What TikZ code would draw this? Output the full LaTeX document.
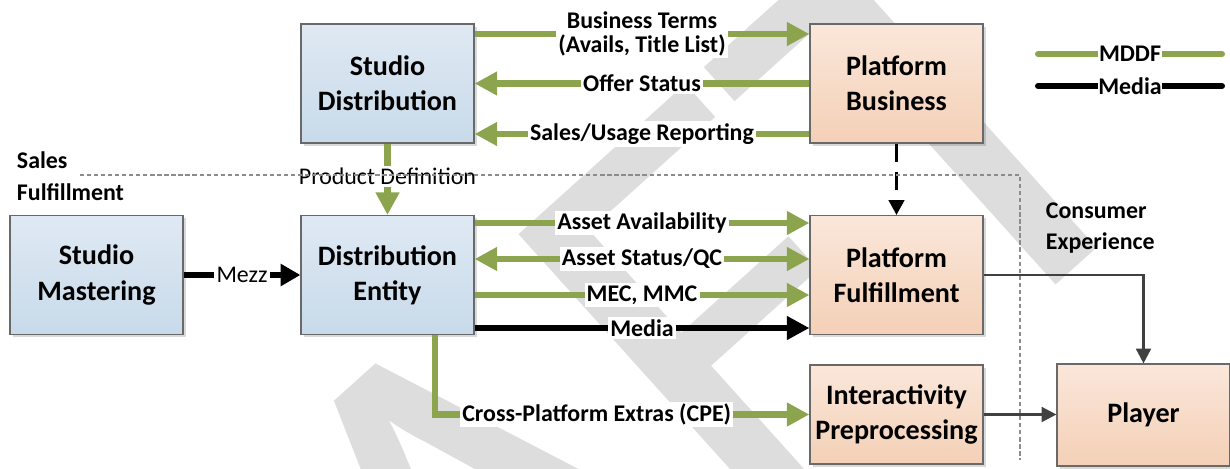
\documentclass[tikz,border=0pt]{standalone}
\usepackage{fontspec}
\setmainfont{Carlito}
\usetikzlibrary{arrows.meta,shadows}
\definecolor{mddf}{RGB}{140,164,78}
\definecolor{boxline}{RGB}{105,105,105}
\definecolor{bluetop}{RGB}{223,233,243}
\definecolor{bluebot}{RGB}{200,218,234}
\definecolor{orangetop}{RGB}{250,231,218}
\definecolor{orangebot}{RGB}{244,208,182}
\definecolor{flowgray}{RGB}{64,64,64}
\definecolor{wmark}{RGB}{221,221,221}

\begin{document}
\begin{tikzpicture}[x=0.025cm, y=-0.025cm,
  box/.style={draw=boxline, line width=0.8pt, minimum width=4.325cm, minimum height=2.975cm,
    align=center, font=\fontsize{20}{25}\selectfont\bfseries,
    drop shadow={shadow xshift=2pt, shadow yshift=-2pt, opacity=0.15, fill=black}},
  studio/.style={box, top color=bluetop, bottom color=bluebot},
  platform/.style={box, top color=orangetop, bottom color=orangebot},
  lbl/.style={fill=white, inner sep=1.5pt, align=center, font=\fontsize{17}{16.5}\selectfont\bfseries},
  plainlbl/.style={lbl, font=\fontsize{17}{16.5}\selectfont},
  side/.style={anchor=west, align=left, font=\fontsize{17}{22}\selectfont\bfseries},
  mddfline/.style={draw=mddf, line width=4.3pt},
  medialine/.style={draw=black, line width=4.3pt},
  big/.style={-{Triangle[length=16pt,width=16pt]}},
  bigboth/.style={{Triangle[length=16pt,width=16pt]}-{Triangle[length=16pt,width=16pt]}},
  flow/.style={draw=flowgray, line width=1.8pt, -{Triangle[length=10.5pt,width=10.5pt]}},
  sep/.style={draw=black!45, line width=1pt, dash pattern=on 3pt off 2pt}]

  \useasboundingbox (0,0) rectangle (1230,468);

  % watermark
  \node[rotate=42, anchor=base, inner sep=0pt, text=wmark, font=\fontsize{440}{440}\selectfont] (wm) at (572,721) {DRAFT};

  % sales side
  \node[studio] (sdist) at (387.5,83.5) {Studio\\Distribution};
  \node[platform] (pbus) at (896.5,83.5) {Platform\\Business};

  % fulfillment side
  \node[studio] (smast) at (96.5,275) {Studio\\Mastering};
  \node[studio] (dent) at (387.5,275) {Distribution\\Entity};
  \node[platform] (pful) at (896.5,275) {Platform\\Fulfillment};
  \node[platform, minimum height=2.475cm] (ipre) at (896.5,414.5) {Interactivity\\Preprocessing};

  % consumer side
  \node[platform, minimum height=2.55cm] (player) at (1143.5,415) {Player};

  \draw[mddfline, big] (sdist.east |- 0,34) -- node[lbl] (bt) {Business Terms\\(Avails, Title List)} (pbus.west |- 0,34);
  \draw[mddfline, big] (pbus.west) -- node[lbl] (os) {Offer Status} (sdist.east);
  \draw[mddfline, big] (pbus.west |- 0,134) -- node[lbl] (su) {Sales/Usage Reporting} (sdist.east |- 0,134);
  \draw[mddfline, big] (sdist.south) -- node[plainlbl, pos=0.46] (pd) {Product Definition} (dent.north);
  \draw[line width=1.8pt, dash pattern=on 13pt off 7pt, -{Triangle[length=10.5pt,width=11pt]}] (pbus.south) -- (pful.north);

  \draw[medialine, -{Triangle[length=14pt,width=15pt]}] (smast.east) -- node[plainlbl] (mz) {Mezz} (dent.west);
  \draw[mddfline, big] (dent.east |- 0,223) -- node[lbl] (aa) {Asset Availability} (pful.west |- 0,223);
  \draw[mddfline, bigboth] (dent.east |- 0,259) -- node[lbl] (as) {Asset Status/QC} (pful.west |- 0,259);
  \draw[mddfline, big] (dent.east |- 0,295) -- node[lbl] (mm) {MEC, MMC} (pful.west |- 0,295);
  \draw[medialine, big] (dent.east |- 0,328) -- node[lbl] (md) {Media} (pful.west |- 0,328);
  \draw[mddfline, big] (dent.south -| 435,0) |- node[lbl, pos=0.716] (cpe) {Cross-Platform Extras (CPE)} (ipre.west);

  \draw[flow] (pful.east) -| (player.north);
  \draw[flow] (ipre.east) -- (ipre.east -| player.west);

  % separators
  \coordinate (sepl) at (80,175);
  \coordinate (sepc) at (1020,175);
  \coordinate (sepb) at (1020,460);
  \draw[sep] (sepl) -- (sepc) -- (sepb);
  \node[side] (sales) at (12,160) {Sales};
  \node[side] (fulf) at (12,192) {Fulfillment};
  \node[side] (cons) at (1041,228) {Consumer\\Experience};

  % legend
  \coordinate (la) at (1038,54);
  \coordinate (lb) at (1222,54);
  \coordinate (lc) at (1038,86);
  \coordinate (ld) at (1222,86);
  \draw[mddfline, line cap=round] (la) -- node[lbl, inner sep=0.5pt] (lm) {MDDF} (lb);
  \draw[medialine, line cap=round] (lc) -- node[lbl, inner sep=0.5pt] (lmd) {Media} (ld);
\end{tikzpicture}
\end{document}
